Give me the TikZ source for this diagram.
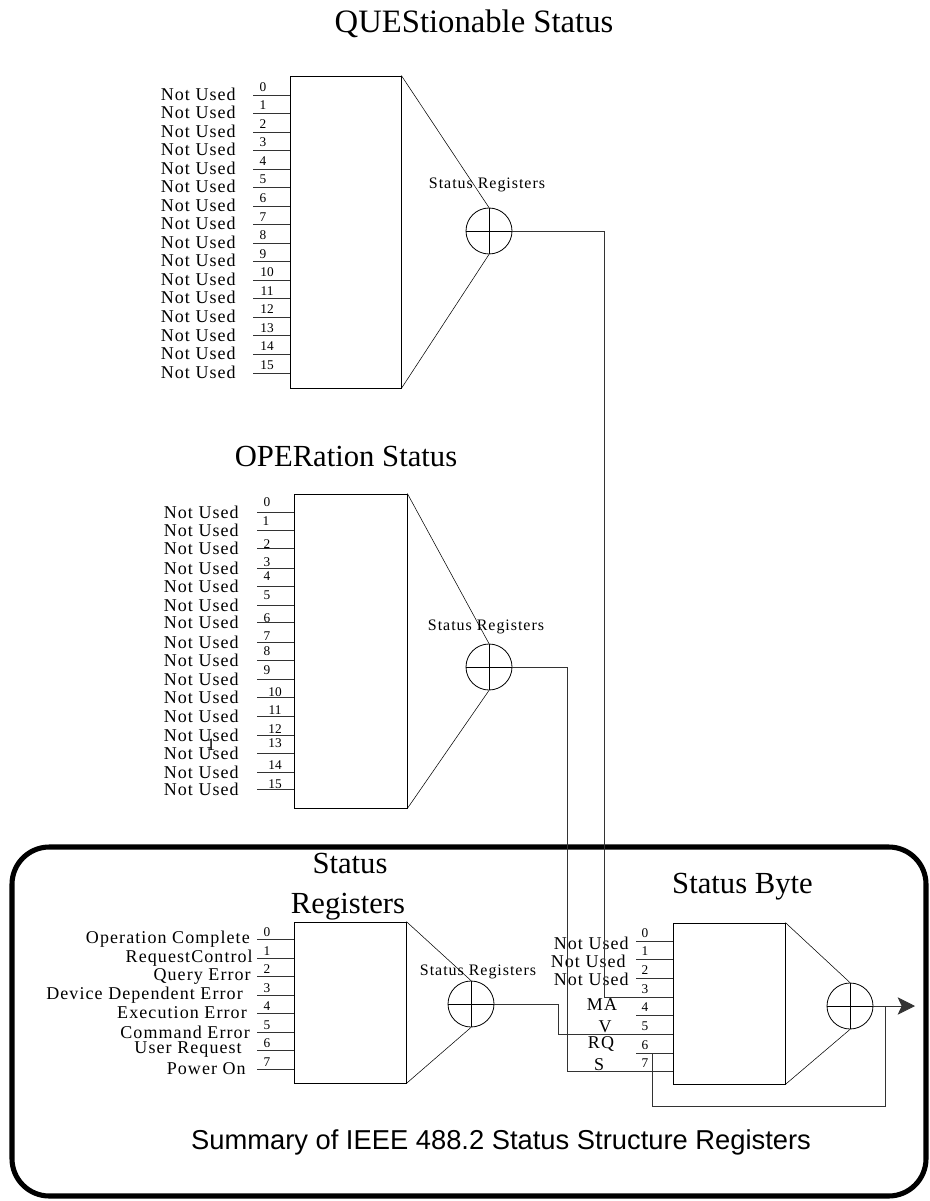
\documentclass[tikz,border=0pt]{standalone}
\usepackage{fontspec}
\setmainfont{Liberation Serif}
\setsansfont{Liberation Sans}
\newfontfamily\spacedfont[LetterSpace=6]{Liberation Serif}
\usetikzlibrary{arrows.meta, positioning}
\tikzstyle{register} = [rectangle, draw, inner sep=0pt, line width=0.6pt]
\tikzstyle{summer} = [circle, draw, minimum size=34.5pt, inner sep=0pt, line width=0.6pt]
\tikzstyle{wire} = [line width=0.6pt, black!80]
\tikzstyle{bitnum} = [inner sep=0pt, font=\fontsize{10}{10}\selectfont]
\tikzstyle{bitlabel} = [anchor=east, inner sep=0pt, font=\spacedfont\fontsize{13.5}{13.5}\selectfont]
\tikzstyle{title} = [anchor=base, inner sep=0pt, font=\fontsize{23}{23}\selectfont]
\tikzstyle{sumlabel} = [anchor=base, inner sep=0pt, font=\spacedfont\fontsize{12}{12}\selectfont]
\tikzstyle{arrow} = [wire, -{Stealth[length=13pt, width=13pt, inset=3pt]}]

\begin{document}
\begin{tikzpicture}[x=0.75pt, y=-0.75pt]
    \useasboundingbox (0,0) rectangle (930,1201);

    % summary frame
    \draw[line width=3.8pt, rounded corners=28pt] (12,847) rectangle (926,1196);
    \node[font=\sffamily\fontsize{20.5}{20.5}\selectfont, anchor=base] (summary) at (501,1149) {Summary of IEEE 488.2 Status Structure Registers};

    % QUEStionable status
    \node[title, font=\fontsize{24.5}{24.5}\selectfont] (qtitle) at (474,33) {QUEStionable Status};
    \node[register, minimum width=83.25pt, minimum height=234pt] (qbox) at (345.5,232) {};
    \node[summer] (qsum) at (489,231) {};
    \draw (qsum.north) -- (qsum.south) (qsum.west) -- (qsum.east);
    \draw (qbox.north east) -- (qsum.north) (qsum.south) -- (qbox.south east);
    \node[sumlabel] (qsumlbl) at (487,189) {Status Registers};
    \foreach \i/\nx in {0/263,1/263,2/263,3/263,4/263,5/263,6/263,7/263,8/263,9/263,10/267,11/267,12/267,13/267,14/267,15/267} {
        \coordinate (qin\i) at (253,95+18.53*\i);
        \draw[wire] (qin\i) -- (qin\i -| qbox.west);
        \node[bitnum] (qnum\i) at (\nx,87+18.53*\i) {\i};
        \node[bitlabel] (qlbl\i) at (236,94+18.53*\i) {Not Used};
    }

    % OPERation status
    \node[title] (otitle) at (346,466) {OPERation Status};
    \node[register, minimum width=84.75pt, minimum height=235.5pt] (obox) at (350.5,651) {};
    \node[summer] (osum) at (489,667) {};
    \draw (osum.north) -- (osum.south) (osum.west) -- (osum.east);
    \draw (obox.north east) -- (osum.north) (osum.south) -- (obox.south east);
    \node[sumlabel] (osumlbl) at (486,630) {Status Registers};
    \foreach \i/\y/\nx/\ny in {0/512/267/502, 1/530/266/521, 2/548/267/544, 3/568/267/562, 4/586/267/576, 5/605/267/595, 6/622/267/618, 7/642/267/636, 8/660/267/651, 9/679/267/670, 10/697/275/692, 11/716/275/710, 12/735/275/729, 13/753/275/743, 14/772/275/765, 15/789/275/784} {
        \coordinate (oin\i) at (257,\y);
        \draw[wire] (oin\i) -- (oin\i -| obox.west);
        \node[bitnum] (onum\i) at (\nx,\ny) {\i};
        \node[bitlabel] (olbl\i) at (239,\y) {Not Used};
    }
    \node[bitnum, font=\fontsize{13}{13}\selectfont] (ostray) at (211,745) {1};

    % status registers (standard event)
    \node[title] (stitle) at (350,873) {Status};
    \node[title] (stitle2) at (348,913) {Registers};
    \node[register, minimum width=84pt, minimum height=120.75pt] (sbox) at (350,1002.5) {};
    \node[summer] (ssum) at (471,1004) {};
    \draw (ssum.north) -- (ssum.south) (ssum.west) -- (ssum.east);
    \draw (sbox.north east) -- (ssum.north) (ssum.south) -- (sbox.south east);
    \node[sumlabel] (ssumlbl) at (478,975) {Status Registers};
    \foreach \i/\y/\xe/\txt in {0/939/250/Operation Complete, 1/958/253/RequestControl, 2/976/251/Query Error, 3/995/243/Device Dependent Error, 4/1013/247/Execution Error, 5/1032/250/Command Error, 6/1050/242/User Request, 7/1069/246/Power On} {
        \coordinate (sin\i) at (257,\y);
        \draw[wire] (sin\i) -- (sin\i -| sbox.west);
        \node[bitnum] (snum\i) at (267,\y-6.5) {\i};
        \node[bitlabel] (slbl\i) at (\xe,\y) {\txt};
    }

    % status byte
    \node[title] (btitle) at (742.5,893) {Status Byte};
    \node[register, minimum width=84pt, minimum height=120.75pt] (bbox) at (729,1003.5) {};
    \node[summer] (bsum) at (850,1006) {};
    \draw (bsum.north) -- (bsum.south) (bsum.west) -- (bsum.east);
    \draw (bbox.north east) -- (bsum.north) (bsum.south) -- (bbox.south east);
    \foreach \i/\y in {0/941, 1/959, 2/978, 3/997, 4/1015, 5/1034, 6/1053, 7/1071} {
        \coordinate (bin\i) at (636,\y);
        \draw[wire] (bin\i) -- (bin\i -| bbox.west);
        \node[bitnum] (bnum\i) at (645,\y-8) {\i};
    }
    \node[bitlabel] (blbl0) at (629,943) {Not Used};
    \node[bitlabel] (blbl1) at (626,961) {Not Used};
    \node[bitlabel] (blbl2) at (629,979) {Not Used};
    \node[bitlabel, anchor=center] (blbl4) at (602,1005) {MA};
    \node[bitlabel, anchor=center] (blbl5) at (605,1027) {V};
    \node[bitlabel, anchor=center] (blbl6) at (601,1044) {RQ};
    \node[bitlabel, anchor=center] (blbl7) at (599,1065) {S};

    % summary lines into the status byte
    \coordinate (qdrop) at (604,997);
    \coordinate (odrop) at (567,1071);
    \coordinate (sdrop) at (558,1034);
    \draw[wire] (qsum.east) -| (qdrop) -- (qdrop -| bbox.west);
    \draw[wire] (osum.east) -| (odrop) -- (odrop -| bbox.west);
    \draw[wire] (ssum.east) -| (sdrop) -- (sdrop -| bbox.west);

    % output and feedback
    \coordinate (bout) at (915,1006);
    \coordinate (fbtap) at (885,1006);
    \coordinate (fbturn) at (652,1106);
    \draw[arrow] (bsum.east) -- (bout);
    \draw[wire] (fbtap) |- (fbturn) |- (bin6 -| bbox.west);
\end{tikzpicture}
\end{document}
